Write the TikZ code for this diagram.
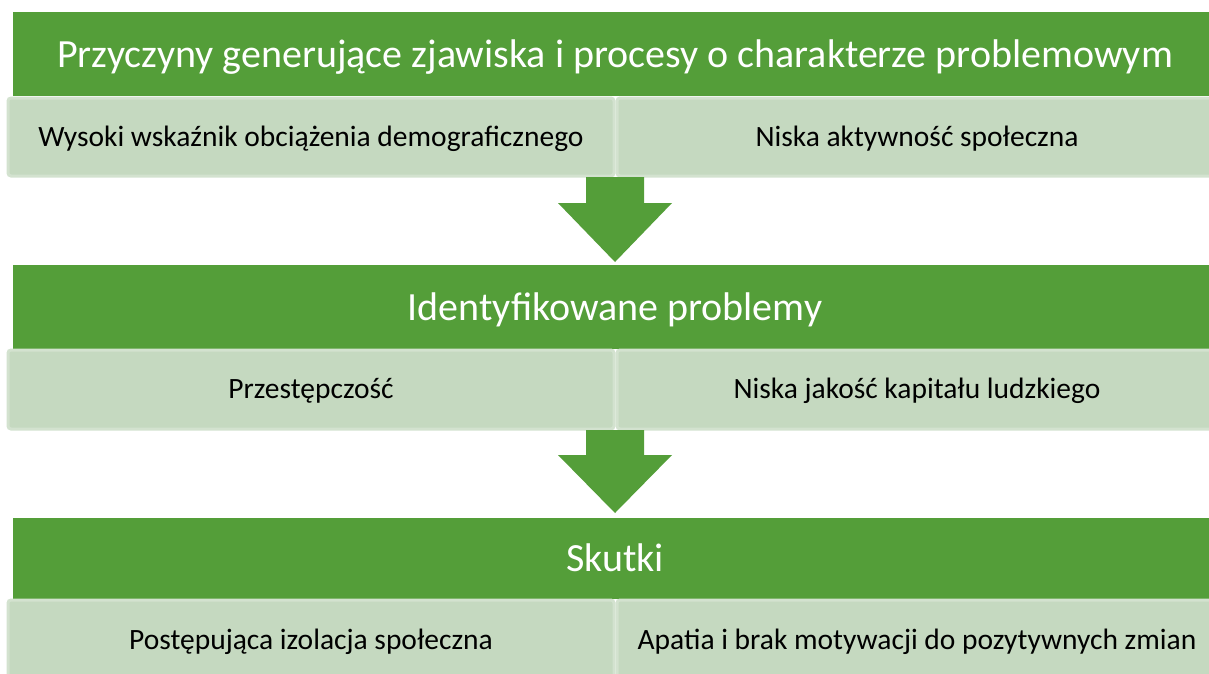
\documentclass[tikz,border=0pt]{standalone}
\usepackage{fontspec}
\setmainfont{Carlito}
\usetikzlibrary{calc}
\definecolor{hdr}{HTML}{549E39}
\definecolor{cellfill}{HTML}{C5D9C0}
\definecolor{cellline}{HTML}{D3E2CF}
\begin{document}
\begin{tikzpicture}[x=1pt,y=-1pt,
  header/.style={fill=hdr, inner sep=0pt, outer sep=0pt, minimum width=1204pt, text=white, text height=30pt, text depth=4pt, font=\fontsize{40}{44}\selectfont},
  cellbox/.style={fill=cellfill, draw=cellline, line width=3pt, rounded corners=3pt, inner sep=0pt, outer sep=0pt, text=black, text height=21pt, text depth=3pt, font=\fontsize{29.5}{32}\selectfont},
  blockarrow/.style={fill=hdr}]
\useasboundingbox (0,0) rectangle (1209,673);
\clip (0,0) rectangle (1209,673);
% level 1
\node[header, minimum height=84pt] (h1) at (615,54) {Przyczyny generujące zjawiska i procesy o charakterze problemowym};
\node[cellbox, minimum width=606pt, minimum height=78pt] (c1a) at (311,137) {Wysoki wskaźnik obciążenia demograficznego};
\node[cellbox, minimum width=600pt, minimum height=78pt] (c1b) at (917,137) {Niska aktywność społeczna};
% level 2
\node[header, minimum height=84pt] (h2) at (615,307) {Identyfikowane problemy};
\node[cellbox, minimum width=606pt, minimum height=79pt] (c2a) at (311,389.5) {Przestępczość};
\node[cellbox, minimum width=600pt, minimum height=79pt] (c2b) at (917,389.5) {Niska jakość kapitału ludzkiego};
% level 3
\node[header, minimum height=81pt] (h3) at (615,558.5) {Skutki};
\node[cellbox, minimum width=606pt, minimum height=80pt] (c3a) at (311,640) {Postępująca izolacja społeczna};
\node[cellbox, minimum width=600pt, minimum height=80pt] (c3b) at (917,640) {Apatia i brak motywacji do pozytywnych zmian};
% arrows
\coordinate (a1s) at ($(h1.south)+(0,81)$);
\coordinate (a1t) at ($(h2.north)+(0,-3)$);
\fill[blockarrow] ($(a1s)+(-29,0)$) -- ++(0,26) -- ++(-28,0) -- (a1t) -- ($(a1s)+(57,26)$) -- ++(-28,0) -- ($(a1s)+(29,0)$) -- cycle;
\coordinate (a2s) at ($(h2.south)+(0,81)$);
\coordinate (a2t) at ($(h3.north)+(0,-5)$);
\fill[blockarrow] ($(a2s)+(-29,0)$) -- ++(0,25) -- ++(-28,0) -- (a2t) -- ($(a2s)+(57,25)$) -- ++(-28,0) -- ($(a2s)+(29,0)$) -- cycle;
\end{tikzpicture}
\end{document}
